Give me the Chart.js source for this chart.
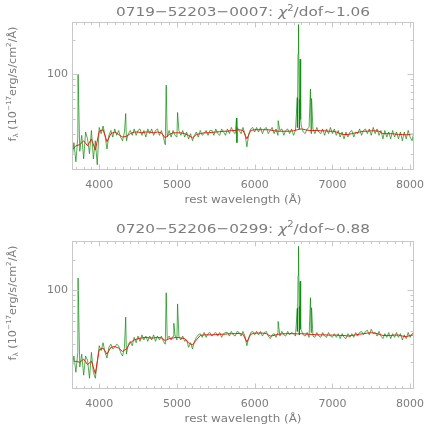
<!DOCTYPE html>
<html>
<head>
<meta charset="utf-8">
<script src="https://cdn.jsdelivr.net/npm/chart.js@4.4.1/dist/chart.umd.min.js"></script>
<style>
  html, body { margin: 0; padding: 0; background: #fff; }
  canvas { display: block; }
  #bottom { margin-top: 1px; }
</style>
</head>
<body>
<canvas id="top" width="436" height="218"></canvas>
<canvas id="bottom" width="436" height="217"></canvas>
<script>
// rest wavelength grid (Å) of the observed spectra
const wave = [
  3650,3675,3700,3725,3750,3775,3800,3825, 3850,3875,3900,3925,3950,3975,4000,4025,
  4050,4075,4100,4125,4150,4175,4200,4225, 4250,4275,4300,4325,4350,4375,4400,4425,
  4450,4475,4500,4525,4550,4575,4600,4625, 4650,4675,4700,4725,4750,4775,4800,4825,
  4850,4875,4900,4925,4950,4975,5000,5025, 5050,5075,5100,5125,5150,5175,5200,5225,
  5250,5275,5300,5325,5350,5375,5400,5425, 5450,5475,5500,5525,5550,5575,5600,5625,
  5650,5675,5700,5725,5750,5775,5800,5825, 5850,5875,5900,5925,5950,5975,6000,6025,
  6050,6075,6100,6125,6150,6175,6200,6225, 6250,6275,6300,6325,6350,6375,6400,6425,
  6450,6475,6500,6525,6550,6575,6600,6625, 6650,6675,6700,6725,6750,6775,6800,6825,
  6850,6875,6900,6925,6950,6975,7000,7025, 7050,7075,7100,7125,7150,7175,7200,7225,
  7250,7275,7300,7325,7350,7375,7400,7425, 7450,7475,7500,7525,7550,7575,7600,7625,
  7650,7675,7700,7725,7750,7775,7800,7825, 7850,7875,7900,7925,7950,7975,8000,8025,
  8050
];

// panel 1: 0719-52203-0007
const fluxTop = [
  18,25,17,28,21,29,18,31, 27,20,32,18,26,16,34,30,
  35,29,22,29,32,28,33,29, 32,28,26,31,26,30,32,29,
  33,29,32,33,29,32,28,33, 30,33,29,32,33,29,32,28,
  24,28,32,28,32,29,28,32, 29,32,28,31,27,30,26,29,
  31,28,32,29,30,32,29,32, 32,29,33,30,29,33,31,29,
  33,30,34,31,30,34,32,30, 34,30,23,30,33,34,31,34,
  31,34,30,33,34,30,32,34, 30,33,29,32,33,29,32,33,
  30,33,29,32,34,33,35,31, 30,33,34,30,33,30,34,31,
  30,33,29,33,30,34,30,33, 29,32,28,31,27,31,28,31,
  32,28,31,30,33,29,32,33, 30,33,29,34,30,33,29,32,
  27,32,28,31,27,32,28,31, 27,31,26,31,27,32,28,26,
  31
];
// model on every second grid point (50 Å)
const modelTop = [
  21.5,23.5,24,26,23.5,27,21.5,31.5,32.5,25.5,
  30,31,29.5,28,28.5,30,31,31,30.5,31,
  31,30.5,31,30.5,27.5,29.5,30.5,30.5,30.5,30,
  29,27.5,29.5,30,30.5,30.5,30.8,31,31.2,31.5,
  31.5,32,32,32.5,32,27,32,32.5,32.5,32.5,
  32.5,32.3,31.8,31.5,31.5,31.5,31.5,31.8,32.5,33,
  32.5,32,32,32,31.8,31.8,31.5,31.5,31,30,
  29.5,29.5,30,30.5,31,31.5,31.5,31.8,31.8,31.5,
  30,30,30,29.8,29.5,29.5,29.3,29.5,29.8
];
const lineWaveTop = [3728, 4341, 4862, 5008, 5766, 5772, 6302, 6549, 6558, 6564, 6573, 6585, 6592, 6718, 6732];
const lineFluxTop = [100, 45, 80, 46, 41, 25, 39, 62, 150, 272, 60, 135, 40, 74, 61];

// panel 2: 0720-52206-0299
const fluxBot = [
  17,23,16,25,18,24,15,23, 21,14,25,16,14,20,29,26,
  31,25,22,28,30,27,28,30, 29,25,23,28,24,30,32,29,
  35,31,36,32,37,33,36,32, 36,33,37,32,36,33,36,32,
  30,34,36,33,36,37,33,36, 33,36,32,33,28,31,27,32,
  35,37,38,35,39,35,38,39, 36,38,39,36,39,35,38,39,
  39,36,40,37,36,40,39,36, 40,36,29,35,39,40,37,40,
  37,40,36,39,40,36,34,37, 38,35,39,36,40,37,36,40,
  37,39,38,36,40,37,41,37, 36,39,35,39,36,35,39,36,
  35,39,36,35,39,36,35,38, 35,38,34,38,35,34,38,35,
  38,35,39,36,39,40,37,40, 41,37,42,38,39,36,40,36,
  34,38,35,39,34,38,35,39, 35,38,33,37,34,39,35,38,
  39
];
const modelBot = [
  19.5,20.5,20,21.5,19,20.5,15.5,26.5,27.5,24,
  28,28.5,27.5,25.5,27,31,33,34,34.5,35,
  34.5,34.5,35,34.5,32.5,34,34.5,35,34.5,34,
  31,29.5,33,36.5,37,37,37,37.2,37.5,37.5,
  37.8,38,38,38.3,37.5,31.5,37.5,38.5,38.5,38.5,
  38,36,36.5,37.5,37.8,38,38,38,37.8,38,
  37.8,37.5,37.3,37,37,37,36.8,36.8,36.8,36.5,
  36.5,36,36.5,37,37.5,38,38.5,38.8,38.5,37.5,
  36.5,36.5,36.5,36.8,36.8,36,35.5,36.5,37
];
const lineWaveBot = [3728, 4341, 4862, 4960, 5008, 6302, 6549, 6558, 6564, 6573, 6585, 6592, 6718, 6732];
const lineFluxBot = [132, 55, 95, 48, 74, 50, 67, 140, 269, 70, 123, 42, 85, 68];

const xTicks = [4000, 5000, 6000, 7000, 8000];
const yMajor = [100];
const yMinor = [20, 30, 40, 50, 60, 70, 80, 90, 200];

const FONT = '"DejaVu Sans", sans-serif';
const TEXT = '#7c7c7c';
const AXIS = '#c8c8c8';

function spectrum(flux, lw, lf) {
  const pts = wave.map((w, i) => ({ x: w, y: flux[i] }));
  lw.forEach((w, i) => pts.push({ x: w, y: lf[i] }));
  return pts.sort((a, b) => a.x - b.x);
}

function model(vals) {
  const mw = wave.filter((w, i) => i % 2 === 0);
  return mw.map((w, i) => ({ x: w, y: vals[i] }));
}

// draw a run of text pieces [text, size, rise, style], centred on (0,0), squeezed to width
function drawRich(ctx, parts, width) {
  let w = 0;
  const ws = parts.map(p => {
    ctx.font = (p[3] || '') + ' ' + p[1] + 'px ' + FONT;
    const m = ctx.measureText(p[0]).width;
    w += m;
    return m;
  });
  ctx.scale(width / w, 1);
  let cx = -w / 2;
  parts.forEach((p, i) => {
    ctx.font = (p[3] || '') + ' ' + p[1] + 'px ' + FONT;
    ctx.fillText(p[0], cx, -p[2]);
    cx += ws[i];
  });
}

const frame = {
  id: 'frame',
  afterDraw(chart, args, o) {
    const { ctx, chartArea: a, scales: { x, y } } = chart;
    const L = Math.round(a.left) + 0.5, R = Math.round(a.right) - 0.5;
    const T = Math.round(a.top) + 0.5, B = Math.round(a.bottom) - 0.5;
    ctx.save();
    ctx.strokeStyle = AXIS;
    ctx.lineWidth = 1;
    ctx.strokeRect(L, T, R - L, B - T);
    ctx.beginPath();
    for (let w = 3700; w <= 8000; w += 100) {
      const px = Math.round(x.getPixelForValue(w)) + 0.5;
      const len = xTicks.includes(w) ? 5 : 2.5;
      ctx.moveTo(px, B); ctx.lineTo(px, B - len);
      ctx.moveTo(px, T); ctx.lineTo(px, T + len);
    }
    yMajor.concat(yMinor).forEach(v => {
      const py = Math.round(y.getPixelForValue(v)) + 0.5;
      const len = yMajor.includes(v) ? 6 : 3;
      ctx.moveTo(L, py); ctx.lineTo(L + len, py);
      ctx.moveTo(R, py); ctx.lineTo(R - len, py);
    });
    ctx.stroke();

    ctx.fillStyle = TEXT;
    ctx.textBaseline = 'alphabetic';
    const mid = (a.left + a.right) / 2;
    // title
    ctx.save();
    ctx.translate(mid, o.titleBase);
    drawRich(ctx, [[o.name + ': ', 13, 0], ['χ', 13, 0, 'italic'], ['2', 8.5, 5.5], ['/dof~' + o.chi, 13, 0]], 254);
    ctx.restore();
    // x title
    ctx.save();
    ctx.translate(mid, 203);
    drawRich(ctx, [['rest wavelength (Å)', 11, 0]], 117);
    ctx.restore();
    // y title
    ctx.save();
    ctx.translate(15.5, 84);
    ctx.rotate(-Math.PI / 2);
    drawRich(ctx, [['f', 11, 0], ['λ', 7, -2], [' (10', 11, 0], ['−17', 7, 4.5], ['erg/s/cm', 11, 0], ['2', 7, 4.5], ['/Å)', 11, 0]], 115);
    ctx.restore();
    ctx.restore();
  }
};

function makeChart(id, flux, mod, lw, lf, yMin, yMax, name, chi, titleBase) {
  const canvas = document.getElementById(id);
  const xH = canvas.height - 170;
  return new Chart(canvas, {
    type: 'line',
    data: {
      datasets: [
        { data: model(mod), borderColor: '#ee1c10', borderWidth: 1, pointRadius: 0, tension: 0 },
        { data: spectrum(flux, lw, lf), borderColor: 'rgba(0,135,0,0.68)', borderWidth: 1, pointRadius: 0, tension: 0 }
      ]
    },
    options: {
      responsive: false,
      animation: false,
      devicePixelRatio: 1,
      layout: { padding: { left: 0, right: 22, top: 22, bottom: 0 } },
      plugins: {
        legend: { display: false },
        tooltip: { enabled: false },
        frame: { name: name, chi: chi, titleBase: titleBase }
      },
      scales: {
        x: {
          type: 'linear',
          min: 3650,
          max: 8050,
          border: { display: false },
          grid: { display: false, drawTicks: false },
          afterFit: s => { s.height = xH; },
          afterBuildTicks: s => { s.ticks = xTicks.map(v => ({ value: v })); },
          ticks: {
            color: TEXT,
            font: { family: FONT, size: 11 },
            padding: 9,
            maxRotation: 0,
            autoSkip: false,
            callback: v => String(v)
          }
        },
        y: {
          type: 'logarithmic',
          min: yMin,
          max: yMax,
          border: { display: false },
          grid: { display: false, drawTicks: false },
          afterFit: s => { s.width = 72; },
          afterBuildTicks: s => { s.ticks = yMajor.map(v => ({ value: v })); },
          ticks: {
            color: TEXT,
            font: { family: FONT, size: 11 },
            padding: 4,
            autoSkip: false,
            callback: v => String(v)
          }
        }
      }
    },
    plugins: [frame]
  });
}

makeChart('top', fluxTop, modelTop, lineWaveTop, lineFluxTop, 14.4, 286, '0719−52203−0007', '1.06', 16);
makeChart('bottom', fluxBot, modelBot, lineWaveBot, lineFluxBot, 11, 303, '0720−52206−0299', '0.88', 13.5);
</script>
</body>
</html>
